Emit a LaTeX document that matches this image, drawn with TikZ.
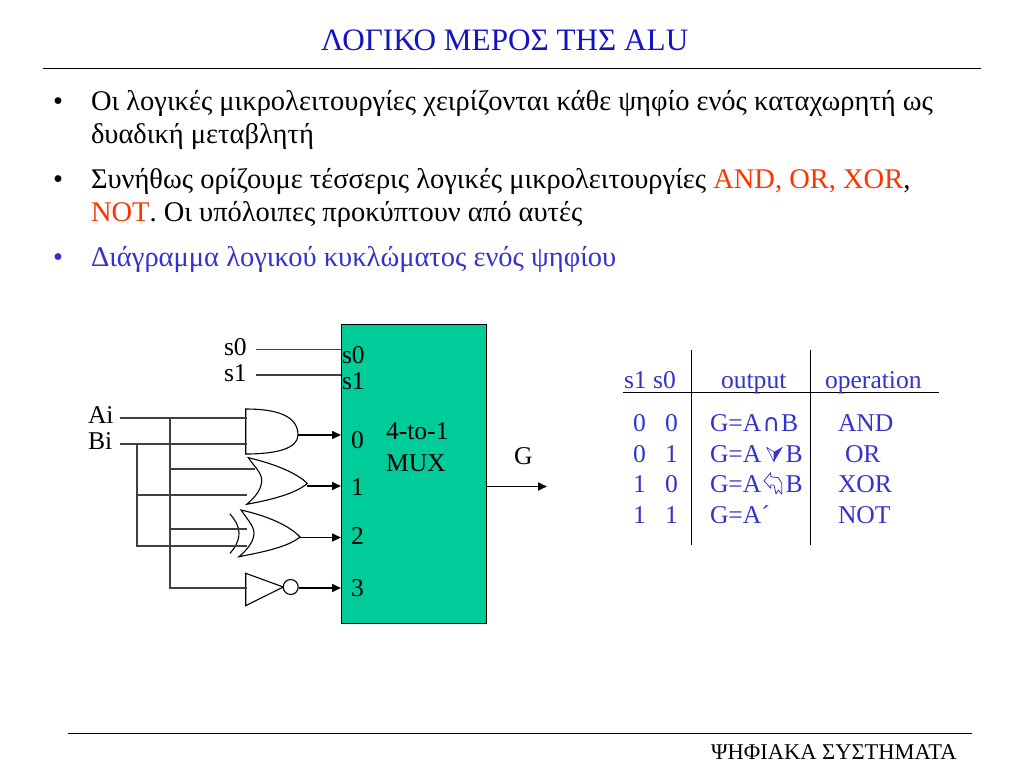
\documentclass[tikz,border=0pt]{standalone}
\usepackage{fontspec}
\setmainfont{Liberation Serif}
\usetikzlibrary{arrows.meta}
\definecolor{ttl}{RGB}{20,20,190}
\definecolor{blu}{RGB}{51,51,204}
\definecolor{redt}{RGB}{255,51,0}
\definecolor{muxc}{RGB}{0,204,153}
\newcommand{\fs}[1]{\fontsize{#1}{#1}\selectfont}
\tikzset{
  x=1pt,y=-1pt,
  txt/.style={anchor=base west,inner sep=0pt,outer sep=0pt},
  ttlt/.style={txt,text=ttl,font=\fs{31.2}},
  body/.style={txt,font=\fs{28.5}},
  bodyb/.style={txt,text=blu,font=\fs{28.5}},
  lab/.style={txt,font=\fs{25.6}},
  tab/.style={txt,text=blu,font=\fs{25.6}},
  wire/.style={draw=black!75,line width=1.6pt},
  sig/.style={wire,draw=black,-{Triangle[length=9pt,width=8pt]}},
  gate/.style={draw=black,line width=1.1pt,fill=white},
  rule/.style={draw=black,line width=1pt},
}
\begin{document}
\begin{tikzpicture}
\useasboundingbox (0,0) rectangle (1024,768);
\node[ttlt] (title) at (321,50) {ΛΟΓΙΚΟ ΜΕΡΟΣ ΤΗΣ ALU};
\coordinate (tl) at (43,68); \coordinate (tr) at (981,68);
\draw[rule] (tl) -- (tr);
\node[body] (b1) at (53,110) {•};
\node[body] (l1) at (91,110) {Οι λογικές μικρολειτουργίες χειρίζονται κάθε ψηφίο ενός καταχωρητή ως};
\node[body] (l2) at (91,143) {δυαδική μεταβλητή};
\node[body] (b2) at (53,188) {•};
\node[body] (l3) at (91,188) {Συνήθως ορίζουμε τέσσερις λογικές μικρολειτουργίες \textcolor{redt}{AND, OR, XOR}, };
\node[body] (l4) at (91,221) {\textcolor{redt}{NOT}. Οι υπόλοιπες προκύπτουν από αυτές};
\node[bodyb] (b3) at (53,266) {•};
\node[bodyb] (l5) at (91,266) {Διάγραμμα λογικού κυκλώματος ενός ψηφίου};

% mux
\node[draw=black,line width=1.1pt,fill=muxc,minimum width=145pt,minimum height=299pt,inner sep=0pt,anchor=north west] (mux) at (341,324) {};
\node[lab] (ms0) at (342,363) {s0};
\node[lab] (ms1) at (342,389) {s1};
\node[lab] (p0) at (351,448) {0};
\node[lab] (p1) at (351,495) {1};
\node[lab] (p2) at (351,544) {2};
\node[lab] (p3) at (351,596) {3};
\node[lab] (m1) at (386,439) {4-to-1};
\node[lab] (m2) at (386,471) {MUX};
\node[lab] (gl) at (514,464) {G};
\coordinate (gout) at (547,486.5);
\draw[sig] (mux.east |- gout) -- (gout);

% inputs
\node[lab] (s0) at (224,355) {s0};
\node[lab] (s1) at (224,381) {s1};
\node[lab] (ai) at (88,423) {Ai};
\node[lab] (bi) at (88,449) {Bi};
\coordinate (s0s) at (256,349.5);
\coordinate (s1s) at (256,375);
\draw[wire] (s0s) -- (s0s -| mux.west);
\draw[wire] (s1s) -- (s1s -| mux.west);

% gates
\draw[gate] (245.7,409) .. controls (275,409) and (298,415) .. (298,435) coordinate (andout)
  .. controls (298,449) and (275,454) .. (245.7,454) -- cycle;
\draw[gate] (248.3,457.7) .. controls (275,464) and (297,473) .. (307.3,483.5) coordinate (orout)
  .. controls (295,494) and (270,500) .. (246.7,504.3)
  .. controls (255,497) and (261.7,490) .. (261.7,480)
  .. controls (261.7,473) and (254,466) .. (248.3,457.7) -- cycle;
\draw[gate] (241,510) .. controls (268,516) and (290,526) .. (300,537) coordinate (xorout)
  .. controls (288,547) and (263,552) .. (239,556.7)
  .. controls (248,549) and (254,541) .. (254,533)
  .. controls (254,526) and (247,519) .. (241,510) -- cycle;
\draw[gate,fill=none] (230,514) .. controls (236,521) and (239,527) .. (239,533)
  .. controls (239,541) and (235,548) .. (230,553.3);
\draw[gate] (245.7,573.3) -- (283.3,587) -- (245.7,605.7) -- cycle;
\node[draw=black,line width=1.1pt,fill=white,circle,minimum size=15pt,inner sep=0pt] (inv) at (290.7,587) {};

% wires
\coordinate (ae) at (247,418); \coordinate (be) at (247,444);
\coordinate (aj) at (170,418); \coordinate (bj) at (137,444);
\coordinate (as) at (119.5,418); \coordinate (bs) at (119.5,444);
\coordinate (o1) at (255,469); \coordinate (o2) at (246.7,495);
\coordinate (x1) at (247,529); \coordinate (x2) at (246.7,546);
\coordinate (n1) at (247,588);
\draw[wire] (as) -- (ae);
\draw[wire] (bs) -- (be);
\draw[wire] (aj) -- (aj |- n1) -- (n1);
\draw[wire] (bj) -- (bj |- x2) -- (x2);
\draw[wire] (aj |- o1) -- (o1);
\draw[wire] (bj |- o2) -- (o2);
\draw[wire] (aj |- x1) -- (x1);

% outputs
\draw[sig] (andout) -- (andout -| mux.west);
\draw[sig] (orout |- 0,486) -- (mux.west |- 0,486);
\draw[sig] (xorout |- 0,537.5) -- (mux.west |- 0,537.5);
\draw[sig] (inv.east |- 0,588) -- (mux.west |- 0,588);

% table
\coordinate (t1) at (691,350); \coordinate (t2) at (810.5,350);
\coordinate (t1b) at (691,545); \coordinate (t2b) at (810.5,545);
\coordinate (hl) at (623,392.3); \coordinate (hr) at (939,392.3);
\draw[rule] (t1) -- (t1b);
\draw[rule] (t2) -- (t2b);
\draw[rule] (hl) -- (hr);
\node[tab] (h1) at (624,388) {s1 s0};
\node[tab] (h2) at (721,388) {output};
\node[tab] (h3) at (825,388) {operation};
\node[tab] (r1a) at (633,431) {0};
\node[tab] (r1b) at (665,431) {0};
\node[tab] (r2a) at (633,462) {0};
\node[tab] (r2b) at (665,462) {1};
\node[tab] (r3a) at (633,492) {1};
\node[tab] (r3b) at (665,492) {0};
\node[tab] (r4a) at (633,523) {1};
\node[tab] (r4b) at (665,523) {1};
\node[tab] (o1t) at (710,431) {G=A};
\node[tab] (o2t) at (710,462) {G=A};
\node[tab] (o3t) at (710,492) {G=A};
\node[tab] (o4t) at (710,523) {G=A´};
\node[tab,font=\fontspec{DejaVu Sans}\fs{24}] (capsym) at (762.5,431) {∩};
\node[tab] (o1b) at (781,431) {B};
\node[tab] (o2b) at (785.5,462) {B};
\node[tab] (o3b) at (785.5,492) {B};
\node[tab] (op1) at (838,431) {AND};
\node[tab] (op2) at (845,462) {OR};
\node[tab] (op3) at (838,492) {XOR};
\node[tab] (op4) at (838,523) {NOT};
% drawn glyphs
\draw[blu,line width=0.6pt,line join=round] (766.7,447.3) -- (774,461.7) -- (774,452) -- cycle;
\fill[blu] (783,446.5) -- (774,461.7) -- (774,452) -- cycle;
\draw[blu,line width=0.8pt,line join=round] (764,480.7) -- (770.7,472.7) -- (770.7,476.7) -- (778.3,477.7) -- (781.7,483.3) -- (781.7,494) -- (778.3,490) -- (776,494) -- (774,485) -- (770.7,485) -- (770.7,488.3) -- cycle;

% footer
\coordinate (fl) at (68,733); \coordinate (fr) at (972,733);
\draw[rule] (fl) -- (fr);
\node[txt,font=\fs{22.5}] (foot) at (711,759) {ΨΗΦΙΑΚΑ ΣΥΣΤΗΜΑΤΑ};
\end{tikzpicture}
\end{document}
